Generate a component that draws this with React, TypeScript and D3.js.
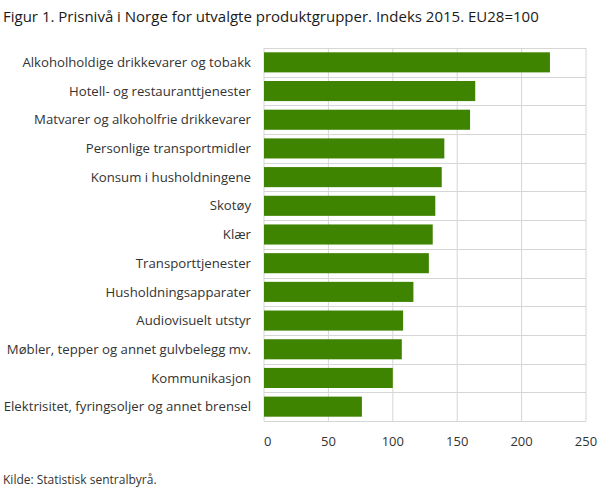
import { useEffect, useRef } from "react";
import * as d3 from "d3";

// categories (top to bottom)
const categories = [
  "Alkoholholdige drikkevarer og tobakk",
  "Hotell- og restauranttjenester",
  "Matvarer og alkoholfrie drikkevarer",
  "Personlige transportmidler",
  "Konsum i husholdningene",
  "Skotøy",
  "Klær",
  "Transporttjenester",
  "Husholdningsapparater",
  "Audiovisuelt utstyr",
  "Møbler, tepper og annet gulvbelegg mv.",
  "Kommunikasjon",
  "Elektrisitet, fyringsoljer og annet brensel",
];

// price index 2015, EU28=100
const values = [222, 164, 160, 140, 138, 133, 131, 128, 116, 108, 107, 100, 76];

const xTicks = [0, 50, 100, 150, 200, 250];

const TITLE = "Figur 1. Prisnivå i Norge for utvalgte produktgrupper. Indeks 2015. EU28=100";
const SOURCE = "Kilde: Statistisk sentralbyrå.";

export default function App() {
  const ref = useRef<SVGSVGElement>(null);

  useEffect(() => {
    if (!ref.current) return;
    const svg = d3.select(ref.current);
    svg.selectAll("*").remove();

    const W = 609;
    const H = 489;
    const m = { top: 48, right: 23, bottom: 68, left: 264 };
    const w = W - m.left - m.right;
    const h = H - m.top - m.bottom;
    const font = "'Open Sans', 'Noto Sans', sans-serif";

    const x = d3.scaleLinear().domain([0, 250]).range([0, w]);
    const y = d3
      .scaleBand<string>()
      .domain(categories)
      .range([0, h])
      .paddingInner(0.3)
      .paddingOuter(0.15);

    svg.attr("width", W).attr("height", H).style("font-family", font);

    // title
    svg
      .append("text")
      .attr("x", 3)
      .attr("y", 22)
      .attr("font-size", 15)
      .attr("fill", "#1a1a1a")
      .text(TITLE);

    const g = svg.append("g").attr("transform", `translate(${m.left},${m.top})`);

    // vertical grid
    g.append("g")
      .selectAll("line")
      .data(xTicks)
      .join("line")
      .attr("x1", (d) => x(d))
      .attr("x2", (d) => x(d))
      .attr("y1", 0)
      .attr("y2", h)
      .attr("stroke", "#d6d6d6")
      .attr("stroke-width", 1);

    // horizontal grid at band boundaries
    const step = y.step();
    const gap = (step - y.bandwidth()) / 2;
    const bounds = d3
      .range(categories.length + 1)
      .map((i) => (i === 0 ? 0 : i === categories.length ? h : y(categories[i])! - gap));
    g.append("g")
      .selectAll("line")
      .data(bounds)
      .join("line")
      .attr("x1", 0)
      .attr("x2", w)
      .attr("y1", (d) => Math.round(d) + 0.5)
      .attr("y2", (d) => Math.round(d) + 0.5)
      .attr("stroke", "#d6d6d6")
      .attr("stroke-width", 1);

    // bars
    g.append("g")
      .selectAll("rect")
      .data(categories)
      .join("rect")
      .attr("x", x(0))
      .attr("y", (d) => y(d)!)
      .attr("width", (_, i) => x(values[i]) - x(0))
      .attr("height", y.bandwidth())
      .attr("fill", "#3f8400");

    // category labels
    g.append("g")
      .selectAll("text")
      .data(categories)
      .join("text")
      .attr("x", -13)
      .attr("y", (d) => y(d)! + y.bandwidth() / 2)
      .attr("dy", "0.35em")
      .attr("text-anchor", "end")
      .attr("font-size", 13.2)
      .attr("fill", "#333")
      .text((d) => d);

    // x tick labels
    g.append("g")
      .selectAll("text")
      .data(xTicks)
      .join("text")
      .attr("x", (d) => x(d))
      .attr("y", h + 25)
      .attr("text-anchor", (d) => (d === 0 ? "start" : "middle"))
      .attr("font-size", 13)
      .attr("fill", "#333")
      .text((d) => String(d));

    // source
    svg
      .append("text")
      .attr("x", 3)
      .attr("y", 484)
      .attr("font-size", 12)
      .attr("fill", "#333")
      .text(SOURCE);
  }, []);

  return (
    <div style={{ position: "absolute", left: 0, top: 0, background: "#fff" }}>
      <svg ref={ref} style={{ display: "block" }} />
    </div>
  );
}
